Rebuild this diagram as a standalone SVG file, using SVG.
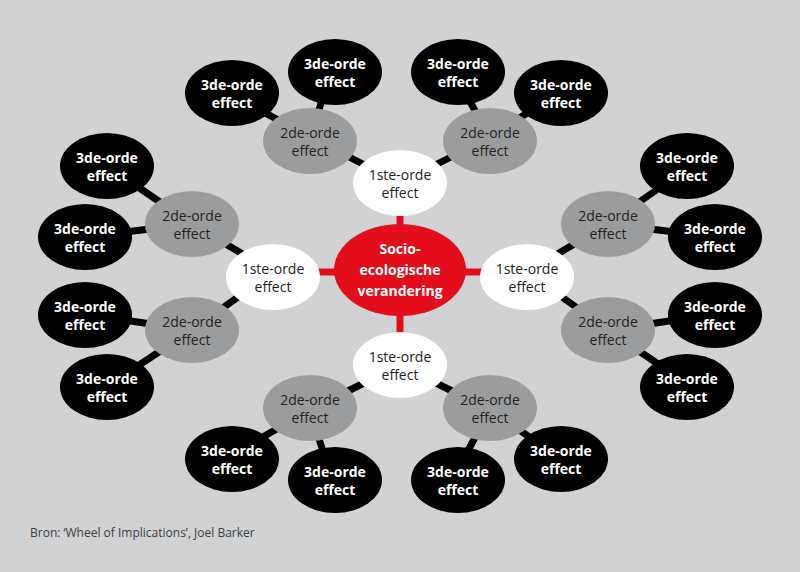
<svg xmlns="http://www.w3.org/2000/svg" width="800" height="572" viewBox="0 0 800 572">
<style>
text{font-family:"Open Sans","Liberation Sans",sans-serif;font-size:14px;text-anchor:middle}
.c{fill:#e30d1b}.w{fill:#fff}.g{fill:#9b9c9e}.b{fill:#000}
.tb{fill:#fff;font-weight:bold}.tw{fill:#231f20}.tg{fill:#231f20}
.l{stroke:#000;stroke-width:7}.r{stroke:#e30d1b;stroke-width:7}
</style>
<rect width="800" height="572" fill="#d1d2d4"/>
<g id="connectors">
<line class="r" x1="400" y1="272" x2="400" y2="183"/><line class="r" x1="400" y1="272" x2="400" y2="365"/>
<line class="r" x1="400" y1="272" x2="273" y2="272"/><line class="r" x1="400" y1="272" x2="527" y2="272"/>
<line class="l" x1="400" y1="183" x2="310" y2="137"/><line class="l" x1="400" y1="183" x2="490" y2="137"/>
<line class="l" x1="400" y1="365" x2="310" y2="410"/><line class="l" x1="400" y1="365" x2="490" y2="410"/>
<line class="l" x1="273" y1="272" x2="192" y2="224"/><line class="l" x1="273" y1="272" x2="192" y2="330"/>
<line class="l" x1="527" y1="272" x2="608" y2="224"/><line class="l" x1="527" y1="272" x2="608" y2="330"/>
<line class="l" x1="310" y1="137" x2="226" y2="92"/><line class="l" x1="310" y1="137" x2="332" y2="70"/>
<line class="l" x1="490" y1="137" x2="452" y2="70"/><line class="l" x1="490" y1="137" x2="560" y2="92"/>
<line class="l" x1="310" y1="410" x2="226" y2="458"/><line class="l" x1="310" y1="410" x2="332" y2="480"/>
<line class="l" x1="490" y1="410" x2="452" y2="480"/><line class="l" x1="490" y1="410" x2="560" y2="458"/>
<line class="l" x1="192" y1="224" x2="106" y2="165"/><line class="l" x1="192" y1="224" x2="83" y2="237"/>
<line class="l" x1="192" y1="330" x2="83" y2="314"/><line class="l" x1="192" y1="330" x2="106" y2="387"/>
<line class="l" x1="608" y1="224" x2="692" y2="165"/><line class="l" x1="608" y1="224" x2="717" y2="237"/>
<line class="l" x1="608" y1="330" x2="717" y2="314"/><line class="l" x1="608" y1="330" x2="692" y2="387"/>
</g>
<g id="center"><ellipse class="c" cx="400" cy="270" rx="66" ry="46"/>
<text class="tb" x="400" y="254">Socio-</text><text class="tb" x="400" y="275">ecologische</text><text class="tb" x="400" y="296">verandering</text></g>
<g id="f1t"><ellipse class="w" cx="400" cy="183" rx="47" ry="33"/><text class="tw" x="400" y="180">1ste-orde</text><text class="tw" x="400" y="198">effect</text></g>
<g id="f1b"><ellipse class="w" cx="400" cy="365" rx="47" ry="33"/><text class="tw" x="400" y="362">1ste-orde</text><text class="tw" x="400" y="380">effect</text></g>
<g id="f1l"><ellipse class="w" cx="273" cy="277" rx="47" ry="33"/><text class="tw" x="273" y="274">1ste-orde</text><text class="tw" x="273" y="292">effect</text></g>
<g id="f1r"><ellipse class="w" cx="527" cy="277" rx="47" ry="33"/><text class="tw" x="527" y="274">1ste-orde</text><text class="tw" x="527" y="292">effect</text></g>
<g id="s1"><ellipse class="g" cx="310" cy="141" rx="47" ry="33"/><text class="tg" x="310" y="138">2de-orde</text><text class="tg" x="310" y="156">effect</text></g>
<g id="s2"><ellipse class="g" cx="490" cy="141" rx="47" ry="33"/><text class="tg" x="490" y="138">2de-orde</text><text class="tg" x="490" y="156">effect</text></g>
<g id="s3"><ellipse class="g" cx="310" cy="408" rx="47" ry="33"/><text class="tg" x="310" y="405">2de-orde</text><text class="tg" x="310" y="423">effect</text></g>
<g id="s4"><ellipse class="g" cx="490" cy="408" rx="47" ry="33"/><text class="tg" x="490" y="405">2de-orde</text><text class="tg" x="490" y="423">effect</text></g>
<g id="s5"><ellipse class="g" cx="192" cy="224" rx="47" ry="33"/><text class="tg" x="192" y="221">2de-orde</text><text class="tg" x="192" y="239">effect</text></g>
<g id="s6"><ellipse class="g" cx="192" cy="330" rx="47" ry="33"/><text class="tg" x="192" y="327">2de-orde</text><text class="tg" x="192" y="345">effect</text></g>
<g id="s7"><ellipse class="g" cx="608" cy="224" rx="47" ry="33"/><text class="tg" x="608" y="221">2de-orde</text><text class="tg" x="608" y="239">effect</text></g>
<g id="s8"><ellipse class="g" cx="608" cy="330" rx="47" ry="33"/><text class="tg" x="608" y="327">2de-orde</text><text class="tg" x="608" y="345">effect</text></g>
<g id="t1"><ellipse class="b" cx="232" cy="93" rx="47" ry="33"/><text class="tb" x="232" y="90">3de-orde</text><text class="tb" x="232" y="108">effect</text></g>
<g id="t2"><ellipse class="b" cx="335" cy="72" rx="47" ry="33"/><text class="tb" x="335" y="69">3de-orde</text><text class="tb" x="335" y="87">effect</text></g>
<g id="t3"><ellipse class="b" cx="458" cy="72" rx="47" ry="33"/><text class="tb" x="458" y="69">3de-orde</text><text class="tb" x="458" y="87">effect</text></g>
<g id="t4"><ellipse class="b" cx="561" cy="93" rx="47" ry="33"/><text class="tb" x="561" y="90">3de-orde</text><text class="tb" x="561" y="108">effect</text></g>
<g id="t5"><ellipse class="b" cx="232" cy="459" rx="47" ry="33"/><text class="tb" x="232" y="456">3de-orde</text><text class="tb" x="232" y="474">effect</text></g>
<g id="t6"><ellipse class="b" cx="335" cy="480" rx="47" ry="33"/><text class="tb" x="335" y="477">3de-orde</text><text class="tb" x="335" y="495">effect</text></g>
<g id="t7"><ellipse class="b" cx="458" cy="480" rx="47" ry="33"/><text class="tb" x="458" y="477">3de-orde</text><text class="tb" x="458" y="495">effect</text></g>
<g id="t8"><ellipse class="b" cx="561" cy="459" rx="47" ry="33"/><text class="tb" x="561" y="456">3de-orde</text><text class="tb" x="561" y="474">effect</text></g>
<g id="t9"><ellipse class="b" cx="107" cy="166" rx="47" ry="33"/><text class="tb" x="107" y="163">3de-orde</text><text class="tb" x="107" y="181">effect</text></g>
<g id="t10"><ellipse class="b" cx="85" cy="237" rx="47" ry="33"/><text class="tb" x="85" y="234">3de-orde</text><text class="tb" x="85" y="252">effect</text></g>
<g id="t11"><ellipse class="b" cx="85" cy="315" rx="47" ry="33"/><text class="tb" x="85" y="312">3de-orde</text><text class="tb" x="85" y="330">effect</text></g>
<g id="t12"><ellipse class="b" cx="107" cy="387" rx="47" ry="33"/><text class="tb" x="107" y="384">3de-orde</text><text class="tb" x="107" y="402">effect</text></g>
<g id="t13"><ellipse class="b" cx="687" cy="166" rx="47" ry="33"/><text class="tb" x="687" y="163">3de-orde</text><text class="tb" x="687" y="181">effect</text></g>
<g id="t14"><ellipse class="b" cx="715" cy="237" rx="47" ry="33"/><text class="tb" x="715" y="234">3de-orde</text><text class="tb" x="715" y="252">effect</text></g>
<g id="t15"><ellipse class="b" cx="715" cy="315" rx="47" ry="33"/><text class="tb" x="715" y="312">3de-orde</text><text class="tb" x="715" y="330">effect</text></g>
<g id="t16"><ellipse class="b" cx="687" cy="387" rx="47" ry="33"/><text class="tb" x="687" y="384">3de-orde</text><text class="tb" x="687" y="402">effect</text></g>
<text x="30" y="537" style="text-anchor:start;font-size:12px;fill:#3c3c3c">Bron: ‘Wheel of Implications’, Joel Barker</text>
</svg>
